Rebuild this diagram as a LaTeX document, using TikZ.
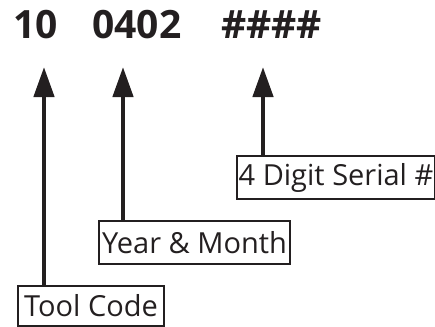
\documentclass[tikz,border=0pt]{standalone}
\usepackage{fontspec}
\setmainfont{Open Sans}
\usetikzlibrary{arrows.meta,positioning}
\definecolor{ink}{HTML}{231F20}
\tikzset{>={Triangle[length=30pt,width=20pt]},
  code/.style={anchor=base west,inner sep=0pt,text=ink,font=\fontsize{39}{40}\selectfont\bfseries},
  tag/.style={draw=ink,text=ink,line width=2pt,anchor=north west,minimum height=43pt,inner sep=0pt,font=\fontsize{29}{34}\selectfont},
  flow/.style={draw=ink,line width=4.5pt,->}}

\begin{document}
\begin{tikzpicture}[x=1pt,y=-1pt]
\useasboundingbox (0,0) rectangle (435,326);
\node[code] (tc) at (13,39){10};\node[code] (ym) at (92,39){0402};\node[code] (sn) at (221,39){\#\#\#\#};
\node[tag,minimum width=198pt] (serial) at (236,155){4 Digit Serial \#};
\node[tag,minimum width=191pt] (year) at (98,220){Year \& Month};
\node[tag,minimum width=146pt,minimum height=40pt] (tool) at (17,285){Tool Code};
\coordinate (tiptc) at (44,67);\coordinate (tipym) at (123,67);\coordinate (tipsn) at (263,67);
\draw[flow] (tool.north -| tiptc)--(tiptc);\draw[flow] (year.north -| tipym)--(tipym);\draw[flow] (serial.north -| tipsn)--(tipsn);
\end{tikzpicture}
\end{document}
